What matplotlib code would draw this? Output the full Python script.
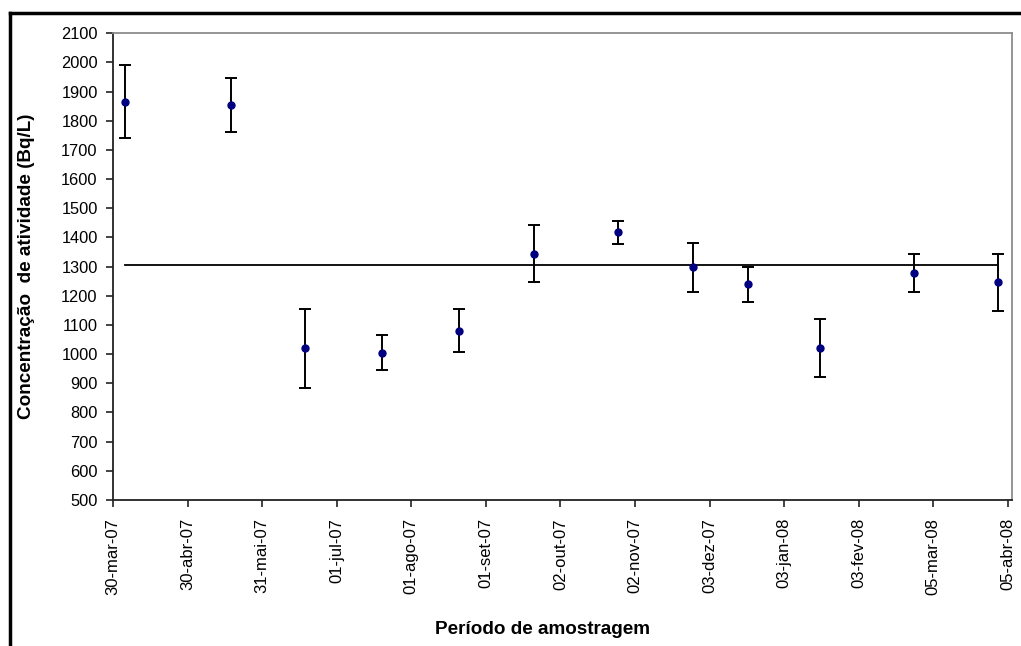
import matplotlib
matplotlib.use("Agg")
import matplotlib.pyplot as plt
import numpy as np
from datetime import datetime, timedelta

plt.rcParams['font.family'] = ['Liberation Sans', 'DejaVu Sans']

# Data
sample_dates = ["2007-04-04", "2007-05-18", "2007-06-18", "2007-07-20",
                "2007-08-21", "2007-09-21", "2007-10-26", "2007-11-26",
                "2007-12-19", "2008-01-18", "2008-02-26", "2008-04-01"]
activity = [1865, 1855, 1020, 1005, 1080, 1345, 1418, 1298, 1240, 1020, 1278, 1246]
uncertainty = [125, 93, 136, 60, 74, 98, 40, 84, 60, 100, 65, 97]
mean_value = 1306

tick_dates = ["2007-03-30", "2007-04-30", "2007-05-31", "2007-07-01",
              "2007-08-01", "2007-09-01", "2007-10-02", "2007-11-02",
              "2007-12-03", "2008-01-03", "2008-02-03", "2008-03-05",
              "2008-04-05"]
tick_labels = ["30-mar-07", "30-abr-07", "31-mai-07", "01-jul-07",
               "01-ago-07", "01-set-07", "02-out-07", "02-nov-07",
               "03-dez-07", "03-jan-08", "03-fev-08", "05-mar-08",
               "05-abr-08"]
y_ticks = list(range(500, 2101, 100))

xd = [datetime.strptime(d, "%Y-%m-%d") for d in sample_dates]
td = [datetime.strptime(d, "%Y-%m-%d") for d in tick_dates]

fig = plt.figure(figsize=(10.21, 6.46), dpi=100)
W, H = 1021, 646
ax = fig.add_axes([113 / W, 1 - 500 / H, (1012 - 113) / W, (500 - 33.3) / H])

# mean line
ax.plot([xd[0], xd[-1]], [mean_value, mean_value], color='black', lw=1.3, zorder=2)

ax.errorbar(xd, activity, yerr=uncertainty, fmt='o', color='#000080',
            ecolor='black', elinewidth=1.4, capsize=4.2, capthick=1.4,
            markersize=5, zorder=3)

ax.set_xlim(td[0], td[0] + timedelta(days=373.7))
ax.set_ylim(500, 2100)
ax.set_yticks(y_ticks)
ax.set_yticklabels([str(v) for v in y_ticks], fontsize=11.8)
ax.set_xticks(td)
ax.set_xticklabels(tick_labels, rotation=90, fontsize=12)

ax.tick_params(axis='both', direction='out', length=5, width=1.2, color='#222222')
ax.tick_params(axis='x', pad=8)
ax.tick_params(axis='y', pad=6)

for s in ['left', 'bottom']:
    ax.spines[s].set_color('#222222')
    ax.spines[s].set_linewidth(1.3)
for s in ['top', 'right']:
    ax.spines[s].set_color('#8c8c8c')
    ax.spines[s].set_linewidth(1.3)

fig.text(27 / W, 1 - 266 / H, "Concentração  de atividade (Bq/L)", rotation=90,
         ha='center', va='center', fontsize=13.6, fontweight='bold')
fig.text(542 / W, 1 - 630 / H, "Período de amostragem",
         ha='center', va='center', fontsize=13.6, fontweight='bold')

# outer frame (top and left edges visible)
fig.add_artist(plt.Line2D([10 / W, 1.01], [1 - 13 / H, 1 - 13 / H], color='black', lw=2.5,
                          transform=fig.transFigure))
fig.add_artist(plt.Line2D([10 / W, 10 / W], [1 - 13 / H, -0.01], color='black', lw=2.5,
                          transform=fig.transFigure))

fig.savefig("out.png", dpi=100)
